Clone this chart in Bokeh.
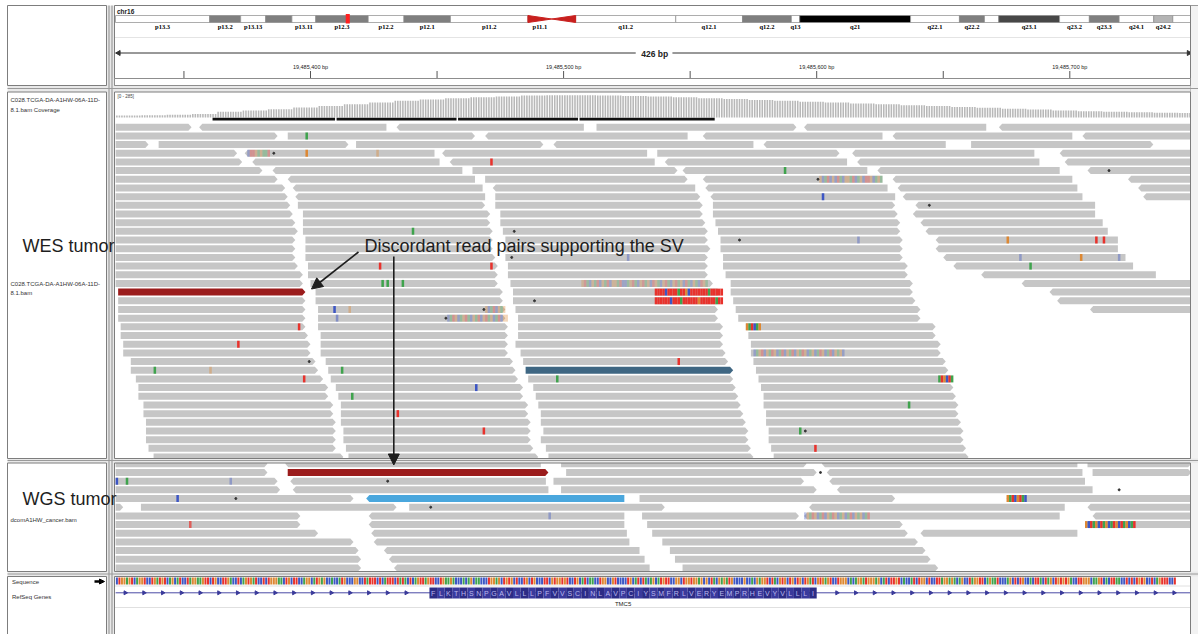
import math
from bokeh.plotting import figure
from bokeh.models import Range1d, Arrow, NormalHead
from bokeh.core.properties import value
from bokeh.embed import file_html
from bokeh.resources import INLINE

# ---------------------------------------------------------------- data
CHROM = "chr16"
LOCUS_MB = 19.4854
BAND_NAMES = ["p13.3", "p13.2", "p13.13", "p13.12", "p13.11", "p12.3", "p12.2", "p12.1",
              "p11.2", "p11.1", "q11.1", "q11.2", "q12.1", "q12.2", "q13", "q21", "q22.1",
              "q22.2", "q22.3", "q23.1", "q23.2", "q23.3", "q24.1", "q24.2", "q24.3"]
BAND_START = [0.0, 7.9, 10.5, 12.6, 14.8, 16.8, 21.2, 24.2, 28.1, 34.6, 36.6, 38.6, 47.0,
              52.6, 56.7, 57.4, 66.7, 70.8, 72.9, 74.1, 79.2, 81.7, 84.2, 87.1, 88.7]
BAND_END = [7.9, 10.5, 12.6, 14.8, 16.8, 21.2, 24.2, 28.1, 34.6, 36.6, 38.6, 47.0, 52.6,
            56.7, 57.4, 66.7, 70.8, 72.9, 74.1, 79.2, 81.7, 84.2, 87.1, 88.7, 90.35]
BAND_STAIN = ["gneg", "gpos50", "gneg", "gpos50", "gneg", "gpos50", "gneg", "gpos50",
              "gneg", "acen", "acen", "gneg", "gneg", "gpos50", "gneg", "gpos100", "gneg",
              "gpos50", "gneg", "gpos75", "gneg", "gpos50", "gneg", "gpos25", "gneg"]
BAND_LABELED = ["p13.3", "p13.2", "p13.13", "p13.11", "p12.3", "p12.2", "p12.1", "p11.2",
                "p11.1", "q11.2", "q12.1", "q12.2", "q13", "q21", "q22.1", "q22.2", "q23.1",
                "q23.2", "q23.3", "q24.1", "q24.2"]

WIN0 = 19485323          # genomic coordinate of offset 0 (left edge of the view)
WIN_BP = 426
TICKS_BP = [19485350, 19485400, 19485450, 19485500, 19485550, 19485600, 19485650, 19485700]
TICK_LABELS = ["", "19,485,400 bp", "", "19,485,500 bp", "", "19,485,600 bp", "", "19,485,700 bp"]

COV_MAX = 285
COV_BIN = 10
COVERAGE = [23, 25, 30, 40, 65, 80, 95, 115, 130, 150, 170, 190, 205, 220, 230, 240, 250,
            255, 255, 250, 245, 240, 230, 220, 210, 200, 190, 180, 170, 160, 150, 140, 130,
            120, 110, 100, 90, 80, 70, 65, 60, 55, 50]
DOWNSAMPLED = [(38, 87), (87, 135), (135, 183), (183, 237)]

# reads: one list per row, (start offset, end offset, strand)
WES_READS = [
    [(0, 30, '+'), (33, 107, '-'), (111, 185, '-'), (190, 269, '+'), (272, 344, '-'), (349, 425, '-')],
    [(0, 64, '+'), (68, 142, '+'), (146, 226, '-'), (232, 303, '-'), (307, 378, '-'), (382, 425, '-')],
    [(0, 13, '+'), (17, 92, '+'), (95, 169, '+'), (173, 252, '-'), (256, 328, '-'), (338, 410, '+')],
    [(0, 48, '+'), (51, 126, '-'), (129, 210, '-'), (214, 286, '+'), (291, 363, '-'), (373, 425, '-')],
    [(0, 50, '+'), (54, 128, '-'), (132, 213, '-'), (217, 289, '-'), (293, 365, '-'), (375, 425, '-')],
    [(0, 58, '+'), (62, 137, '-'), (141, 222, '+'), (224, 297, '-'), (301, 373, '-'), (384, 425, '-')],
    [(0, 64, '+'), (68, 142, '-'), (146, 226, '+'), (232, 303, '-'), (307, 378, '-'), (400, 425, '-')],
    [(0, 67, '+'), (70, 145, '-'), (149, 229, '-'), (233, 305, '-'), (309, 380, '-'), (404, 425, '-')],
    [(0, 68, '+'), (71, 146, '-'), (150, 231, '+'), (235, 308, '-'), (311, 382, '-'), (406, 425, '-')],
    [(0, 69, '+'), (72, 146, '+'), (150, 232, '+'), (236, 308, '+'), (316, 387, '-')],
    [(0, 70, '+'), (74, 148, '+'), (152, 232, '+'), (236, 309, '+'), (315, 387, '-')],
    [(0, 71, '+'), (74, 148, '+'), (152, 233, '+'), (237, 310, '+'), (318, 390, '-')],
    [(0, 72, '+'), (74, 149, '+'), (153, 234, '+'), (238, 310, '+'), (320, 392, '-')],
    [(0, 71, '+'), (75, 149, '+'), (154, 234, '+'), (239, 311, '+'), (324, 396, '-')],
    [(0, 71, '+'), (75, 149, '+'), (154, 235, '+'), (239, 311, '+'), (324, 396, '-')],
    [(0, 71, '+'), (75, 150, '+'), (154, 234, '+'), (240, 311, '+'), (327, 399, '-')],
    [(0, 72, '+'), (76, 151, '+'), (155, 234, '+'), (240, 313, '+'), (331, 402, '-')],
    [(0, 74, '+'), (76, 151, '+'), (155, 234, '+'), (241, 313, '+'), (342, 411, '-')],
    [(0, 74, '+'), (77, 151, '+'), (156, 236, '+'), (243, 315, '+'), (358, 425, '-')],
    [(1, 75, '+'), (79, 153, '+'), (157, 239, '+'), (243, 315, '+'), (369, 425, '-')],
    [(1, 75, '+'), (79, 153, '+'), (157, 239, '+'), (244, 316, '+'), (372, 425, '-')],
    [(1, 75, '+'), (80, 154, '+'), (158, 238, '+'), (245, 318, '+'), (385, 425, '-')],
    [(1, 75, '+'), (80, 154, '+'), (159, 238, '+'), (246, 318, '+')],
    [(2, 75, '+'), (80, 155, '+'), (159, 240, '+'), (249, 324, '+')],
    [(2, 76, '+'), (81, 155, '+'), (159, 240, '+'), (250, 324, '+')],
    [(3, 77, '+'), (81, 155, '+'), (158, 240, '+'), (251, 326, '+')],
    [(3, 77, '+'), (81, 155, '+'), (160, 241, '+'), (251, 326, '+')],
    [(6, 79, '+'), (83, 157, '+'), (161, 242, '+'), (252, 328, '+')],
    [(6, 80, '+'), (84, 158, '+'), (162, 244, '+'), (253, 329, '+')],
    [(8, 82, '+'), (85, 159, '+'), (163, 244, '+'), (254, 331, '+')],
    [(9, 84, '+'), (87, 161, '+'), (165, 245, '+'), (255, 331, '+')],
    [(9, 84, '+'), (88, 161, '+'), (166, 246, '+'), (256, 332, '+')],
    [(11, 86, '+'), (89, 163, '+'), (167, 247, '+'), (256, 333, '+')],
    [(11, 86, '+'), (89, 163, '+'), (168, 248, '+'), (257, 333, '+')],
    [(12, 87, '+'), (89, 164, '+'), (168, 249, '+'), (257, 334, '+')],
    [(12, 87, '+'), (90, 164, '+'), (169, 250, '+'), (258, 335, '+')],
    [(12, 87, '+'), (90, 164, '+'), (168, 250, '+'), (258, 335, '+')],
    [(13, 87, '+'), (91, 165, '+'), (170, 251, '+'), (259, 336, '+')],
    [(15, 90, '+'), (92, 167, '+'), (171, 252, '+'), (260, 337, '+')],
]
WES_SPECIAL = {(19, 1): "#9b1c1c", (28, 162): "#3f6783"}   # (row, start) -> colour

WGS_READS = [
    [(0, 60, '+'), (67, 168, '-'), (176, 273, '+'), (279, 380, '-'), (384, 425, '+')],
    [(0, 60, '+'), (68, 171, '+'), (178, 277, '+'), (281, 382, '-'), (386, 425, '+')],
    [(0, 64, '+'), (69, 170, '-'), (173, 272, '+'), (282, 383, '-')],
    [(0, 65, '+'), (70, 171, '-'), (176, 277, '+'), (285, 386, '-')],
    [(0, 94, '+'), (99, 201, '-'), (207, 308, '+'), (352, 425, '-')],
    [(0, 3, '+'), (10, 111, '+'), (116, 217, '+'), (274, 375, '-'), (384, 425, '-')],
    [(0, 73, '+'), (100, 201, '-'), (208, 270, '+'), (272, 373, '-'), (386, 425, '-')],
    [(0, 73, '+'), (100, 201, '-'), (210, 311, '+'), (383, 425, '-')],
    [(0, 80, '+'), (101, 202, '-'), (212, 313, '+'), (318, 380, '-')],
    [(0, 94, '+'), (102, 203, '-'), (216, 317, '+')],
    [(0, 96, '+'), (106, 207, '-'), (219, 320, '+')],
    [(0, 97, '+'), (108, 209, '-'), (221, 322, '+')],
    [(0, 97, '+'), (110, 211, '-'), (224, 325, '+')],
]
WGS_SPECIAL = {(1, 68): "#9b1c1c", (4, 99): "#4aa7dd"}

# single-base mismatches: (row, offset, base, alpha)
WES_MISMATCH = [(1, 75, 'A', 1), (3, 75, 'G', 1), (3, 103, 'G', 0.4), (4, 148, 'T', 1),
                (5, 264, 'A', 1), (8, 279, 'C', 1), (12, 117, 'A', 1), (13, 293, 'C', 0.4),
                (13, 352, 'G', 1), (13, 387, 'T', 1), (13, 390, 'T', 1), (15, 202, 'C', 0.4),
                (15, 357, 'C', 0.4), (15, 381, 'G', 1), (15, 396, 'C', 0.4), (16, 104, 'T', 1),
                (16, 148, 'T', 1), (16, 361, 'A', 1), (18, 105, 'A', 1), (18, 107, 'A', 1),
                (18, 113, 'A', 1), (21, 86, 'C', 1), (21, 92, 'G', 0.4), (22, 87, 'C', 0.5),
                (23, 72, 'T', 1), (25, 48, 'T', 1), (28, 15, 'A', 1), (28, 37, 'G', 0.4),
                (28, 89, 'A', 1), (29, 74, 'T', 1), (29, 174, 'A', 1), (30, 142, 'C', 1),
                (31, 93, 'A', 1), (33, 111, 'T', 1), (35, 145, 'T', 1), (27, 222, 'T', 1),
                (32, 313, 'A', 1), (35, 270, 'A', 1), (37, 276, 'T', 1)]
WES_DOTS = [(3, 62), (5, 392), (6, 277), (9, 321), (12, 157), (13, 246), (15, 156),
            (20, 165), (21, 145), (22, 130), (27, 76), (35, 272)]
# soft-clipped stretches: (row, start offset, bases, alpha)
WES_CLIPS = [(3, 52, "CTTGAGAAT", 0.35), (6, 278, "GCATCGCTACGGATCAGCTTGCAGA", 0.35),
             (18, 184, "GTACGATCGATCGGATCCAGTACGTAGCTGACGTACGTAGCTACGACTGA", 0.3),
             (19, 213, "TTTTCTTTTATTGCTTTTTTTATTTTT", 1.0),
             (20, 213, "TTTTTTCTTTATTTTTTGTTTTTTATT", 1.0),
             (21, 146, "GCATCGAG", 0.35), (22, 131, "CATGCAGTACGATCGTAGCATCGG", 0.35),
             (23, 249, "GATCAG", 1.0), (26, 252, "CAGTCGATGCATCGATCGATGCAGCATGCATCGAGC", 0.35),
             (29, 325, "ATGCTA", 1.0)]
WGS_MISMATCH = [(2, 0, 'C', 1), (2, 4, 'A', 1), (2, 45, 'C', 0.4), (4, 24, 'C', 1),
                (7, 29, 'T', 0.7), (6, 171, 'C', 0.4)]
WGS_DOTS = [(2, 107), (4, 47), (5, 124), (1, 278), (3, 396)]
WGS_CLIPS = [(4, 352, "GATCGTAC", 1.0), (6, 272, "CGATGCATCGATGCAGCATCGAGCAT", 0.35),
             (7, 383, "GCTAGCTAGCATGCTAGCAT", 1.0)]

# reference sequence (offset 0 .. 425) and RefSeq gene
SEQ = ("CTGGAGTCAGGTCCTGATGTCAGCATCCTAGGAAGTTCTGCCTTGACCTCAGTGATCCTCTGGGAACTGC"
       "TTCCAGGCATGAGCCACCATGCCCGGCCTATTTCTCATTTCTATACTCAGTTAG"
       "TTCCTGAAGACCCACAGCAACCCTGGAGCTGTGCTCCTGCTGCCCTTCGTGGTGTCCTGCATCAACCTGGCC"
       "GTCCCCTGCATCTACAGCATGTTCCGGCTGGTGGAGCGCTACGAGATGCCCCGCCACGAGGTCTACGTGCTG"
       "CTGCTGATC"
       "GTGAGTCCTGGGCACAGGATGGGAGCATCTTGTCACCATCTGGCTCCTTAGGAGACAGCCTAGGTTCAGAA"
       "TCCCAGCTCTGCCACTTACTAGCTGTGTGACCTTGGGCAAGTCACTTAACCTCTCTGTGCCTCAGTTTCCT")
GENE = "TMC5"
EXON = (124, 277)
AMINO = "FLKTHSNPGAVLLLPFVVSCINLAVPCIYSMFRLVERYEMPRHEVYVLLLI"

# ---------------------------------------------------------------- layout
W, Hh = 1198, 634
PX_PER_BP = 2.531
X_LEFT = 19485400 - 310 / PX_PER_BP
X_RIGHT = 19485400 + (W - 310) / PX_PER_BP
MB_PX = 11.92
CH_LEFT = -115 / MB_PX
CH_RIGHT = (W - 115) / MB_PX

FONT = value("Liberation Sans")
GRAY = "#c6c6c6"
BASE_COL = {'A': "#3fa34d", 'C': "#3d56c4", 'G': "#dd8833", 'T': "#e8322c"}

p = figure(width=W, height=Hh, x_range=Range1d(X_LEFT, X_RIGHT),
           y_range=Range1d(Hh, 0), output_backend="svg", toolbar_location=None,
           x_axis_location=None, y_axis_location=None, min_border=0)
p.grid.visible = False
p.outline_line_color = None
p.background_fill_color = "white"
p.extra_x_ranges = {"page": Range1d(0, W), "chrom": Range1d(CH_LEFT, CH_RIGHT)}

def bp(o):
    return WIN0 + o

# ---------------- ideogram
stain_col = {"gneg": "white", "gpos25": "#b4b4b4", "gpos50": "#7f7f7f",
             "gpos75": "#474747", "gpos100": "#000000"}
qi = [i for i, s in enumerate(BAND_STAIN) if s != "acen"]
p.quad(left=[BAND_START[i] for i in qi], right=[BAND_END[i] for i in qi],
       top=15, bottom=22, fill_color=[stain_col[BAND_STAIN[i]] for i in qi],
       line_color="#8a8a8a", line_width=0.7, x_range_name="chrom")
ac = [i for i, s in enumerate(BAND_STAIN) if s == "acen"]
p.patches(xs=[[BAND_START[ac[0]], BAND_END[ac[0]], BAND_START[ac[0]]],
              [BAND_END[ac[1]], BAND_START[ac[1]], BAND_END[ac[1]]]],
          ys=[[15, 18.5, 22], [15, 18.5, 22]], fill_color="#c8201e", line_color="#c8201e",
          x_range_name="chrom")
p.quad(left=[LOCUS_MB - 0.17], right=[LOCUS_MB + 0.17], top=13.5, bottom=23,
       fill_color="#ff2020", line_color=None, x_range_name="chrom")
lab_i = [BAND_NAMES.index(n) for n in BAND_LABELED]
p.text(x=[(BAND_START[i] + BAND_END[i]) / 2 for i in lab_i], y=25.5,
       text=[BAND_NAMES[i] for i in lab_i], text_font=value("Liberation Serif"),
       text_font_style="bold", text_font_size="6.5px", text_align="center",
       text_baseline="middle", text_color="#000000", x_range_name="chrom")

# ---------------- ruler
p.segment(x0=bp(0), x1=bp(WIN_BP / 2) - 7.5, y0=52.5, y1=52.5, line_color="#333333", line_width=1)
p.segment(x0=bp(WIN_BP / 2) + 7, x1=bp(WIN_BP - 1), y0=52.5, y1=52.5, line_color="#333333", line_width=1)
p.scatter(x=[bp(0) + 1.2], y=[52.5], marker="triangle", angle=math.pi / 2, size=5,
          color="#333333")
p.scatter(x=[bp(WIN_BP - 1) - 1], y=[52.5], marker="triangle", angle=-math.pi / 2, size=5,
          color="#333333")
p.text(x=[bp(WIN_BP / 2)], y=[53], text=[f"{WIN_BP} bp"], text_font=FONT, text_font_style="bold",
       text_font_size="8.5px", text_align="center", text_baseline="middle", text_color="#222")
p.segment(x0=TICKS_BP, x1=TICKS_BP, y0=70.5, y1=78, line_color="#555555", line_width=1)
p.text(x=TICKS_BP, y=66.5, text=TICK_LABELS, text_font=FONT, text_font_size="5.5px",
       text_align="center", text_baseline="middle", text_color="#222")

# ---------------- coverage
cov_x, cov_top = [], []
for i in range(WIN_BP):
    cov_x.append(bp(i) + 0.5)
    cov_top.append(117 - COVERAGE[min(i // COV_BIN, len(COVERAGE) - 1)] / COV_MAX * 25)
p.vbar(x=cov_x, width=0.62, top=cov_top, bottom=117, fill_color="#b8b8b8", line_color=None)
p.quad(left=[bp(a) + 0.3 for a, b in DOWNSAMPLED], right=[bp(b) - 0.3 for a, b in DOWNSAMPLED],
       top=117.3, bottom=120, fill_color="#111111", line_color=None)
p.text(x=[117], y=[96], text=["[0 - 285]"], text_font=FONT, text_font_size="4.5px",
       text_baseline="middle", text_color="#444", x_range_name="page")

# ---------------- reads
H = 3.5
TIP = 1.25

def add_reads(rows, special, y0, dy):
    xs, ys, cols = [], [], []
    for r, row in enumerate(rows):
        y = y0 + r * dy
        for (s, e, st) in row:
            a, b = bp(s), bp(e)
            if st == '+':
                xs.append([a, b - TIP, b, b - TIP, a])
                ys.append([y - H, y - H, y, y + H, y + H])
            else:
                xs.append([a + TIP, b, b, a + TIP, a])
                ys.append([y - H, y - H, y + H, y + H, y])
            cols.append(special.get((r, s), GRAY))
    p.patches(xs=xs, ys=ys, fill_color=cols, line_color=None)

def add_marks(mism, dots, clips, y0, dy):
    L, R, T, B, C, A = [], [], [], [], [], []
    for (r, o, base, al) in mism:
        y = y0 + r * dy
        L.append(bp(o)); R.append(bp(o) + 1); T.append(y - H); B.append(y + H)
        C.append(BASE_COL[base]); A.append(al)
    for (r, o, bases, al) in clips:
        y = y0 + r * dy
        for k, base in enumerate(bases):
            L.append(bp(o + k)); R.append(bp(o + k) + 1); T.append(y - H); B.append(y + H)
            C.append(BASE_COL[base]); A.append(al)
    p.quad(left=L, right=R, top=T, bottom=B, fill_color=C, fill_alpha=A, line_color=None)
    p.scatter(x=[bp(o) + 0.5 for r, o in dots], y=[y0 + r * dy for r, o in dots],
              size=2, color="#333333")

WES_Y0, WGS_Y0, DY = 126.7, 463.3, 8.68
add_reads(WES_READS, WES_SPECIAL, WES_Y0, DY)
add_marks(WES_MISMATCH, WES_DOTS, WES_CLIPS, WES_Y0, DY)
add_reads(WGS_READS, WGS_SPECIAL, WGS_Y0, DY)
add_marks(WGS_MISMATCH, WGS_DOTS, WGS_CLIPS, WGS_Y0, DY)

# ---------------- sequence & gene
p.vbar(x=[bp(i) + 0.5 for i in range(len(SEQ))], width=0.8, top=577, bottom=584,
       fill_color=[BASE_COL[c] for c in SEQ], line_color=None)
p.segment(x0=bp(0), x1=bp(WIN_BP), y0=592.3, y1=592.3, line_color="#4b4ba6", line_width=1)
mk = [bp(o) for o in [3.8 + 7.4 * k for k in range(58)] if o < EXON[0] - 2 or o > EXON[1] + 2]
p.scatter(x=mk, y=592.3, marker="triangle", angle=-math.pi / 2, size=4, color="#3a3a9a")
ncod = len(AMINO)
p.quad(left=[bp(EXON[0] + 3 * k) for k in range(ncod)],
       right=[bp(min(EXON[0] + 3 * k + 3, EXON[1])) for k in range(ncod)],
       top=587, bottom=598, line_color=None,
       fill_color=["#2c2c86" if k % 2 == 0 else "#3a3a9c" for k in range(ncod)])
p.text(x=[bp(EXON[0] + 3 * k + 1.5) for k in range(ncod)], y=592.5, text=list(AMINO),
       text_font=FONT, text_font_size="7px", text_align="center", text_baseline="middle",
       text_color="#b9b9ee")
p.text(x=[bp((EXON[0] + EXON[1]) / 2)], y=[603], text=[GENE], text_font=FONT,
       text_font_size="6px", text_align="center", text_baseline="middle", text_color="#222")
p.segment(x0=114, x1=1190, y0=585.5, y1=585.5, line_color="#e0e0e0", x_range_name="page")
p.segment(x0=114, x1=1190, y0=607, y1=607, line_color="#e0e0e0", x_range_name="page")
p.segment(x0=114, x1=1190, y0=37, y1=37, line_color="#e4e4e4", x_range_name="page")

# ---------------- frames
p.quad(left=[1190], right=[1198], top=[5], bottom=[634], fill_color="#f2f2f2",
       line_color="#9a9a9a", x_range_name="page")
p.quad(left=[106, 7], right=[114, 1190], top=[5, 85], bottom=[634, 91.5],
       fill_color="#e9e9e9", line_color=None, x_range_name="page")
p.quad(left=[7, 7], right=[1198, 1198], top=[458, 571], bottom=[462.5, 576],
       fill_color="#e9e9e9", line_color=None, x_range_name="page")
for (t, b) in [(5, 85), (91.5, 458), (462.5, 571), (576, 640)]:
    p.quad(left=[7, 114], right=[106, 1190], top=t, bottom=b, fill_color=None,
           line_color="#7d7d7d", line_width=1, x_range_name="page")
p.segment(x0=[108.5, 111.5], x1=[108.5, 111.5], y0=5, y1=634, line_color="#8d8d8d",
          x_range_name="page")
p.segment(x0=7, x1=1198, y0=[88, 460, 573.5], y1=[88, 460, 573.5], line_color="#9a9a9a",
          x_range_name="page")
p.quad(left=[114], right=[1190], top=[78], bottom=[85], fill_color="white",
       line_color="#8d8d8d", x_range_name="page")
p.text(x=[116.5], y=[10.5], text=[CHROM], text_font=FONT, text_font_style="bold",
       text_font_size="6.5px", text_baseline="middle", text_color="#222", x_range_name="page")

# ---------------- left panel labels
lx = [10, 10, 10, 10, 10, 11.5, 11.5]
ly = [99.5, 109, 283, 292.5, 519.3, 581.5, 596.5]
lt = ["C028.TCGA-DA-A1HW-06A-11D-", "8.1.bam Coverage", "C028.TCGA-DA-A1HW-06A-11D-",
      "8.1.bam", "dcomA1HW_cancer.bam", "Sequence", "RefSeq Genes"]
p.text(x=lx, y=ly, text=lt, text_font=FONT, text_font_size="6px", text_baseline="middle",
       text_color="#333", x_range_name="page")
p.add_layout(Arrow(end=NormalHead(size=5, fill_color="black", line_color="black"),
                   x_start=94, y_start=581, x_end=104, y_end=581, line_width=2.5,
                   x_range_name="page"))

# ---------------- annotations
p.text(x=[22, 22, 364], y=[245, 498.5, 245], text=["WES tumor", "WGS tumor",
       "Discordant read pairs supporting the SV"], text_font=FONT, text_font_size="18px",
       text_baseline="middle", text_color="#1e1e1e", x_range_name="page")
p.add_layout(Arrow(end=NormalHead(size=11, fill_color="#1e1e1e", line_color="#1e1e1e"),
                   x_start=358, y_start=251.5, x_end=311, y_end=288.5, line_width=1.6,
                   line_color="#1e1e1e", x_range_name="page"))
p.add_layout(Arrow(end=NormalHead(size=11, fill_color="#1e1e1e", line_color="#1e1e1e"),
                   x_start=393.3, y_start=256, x_end=393.3, y_end=464.5, line_width=1.6,
                   line_color="#1e1e1e", x_range_name="page"))

open("out.html", "w").write(file_html(p, INLINE))
